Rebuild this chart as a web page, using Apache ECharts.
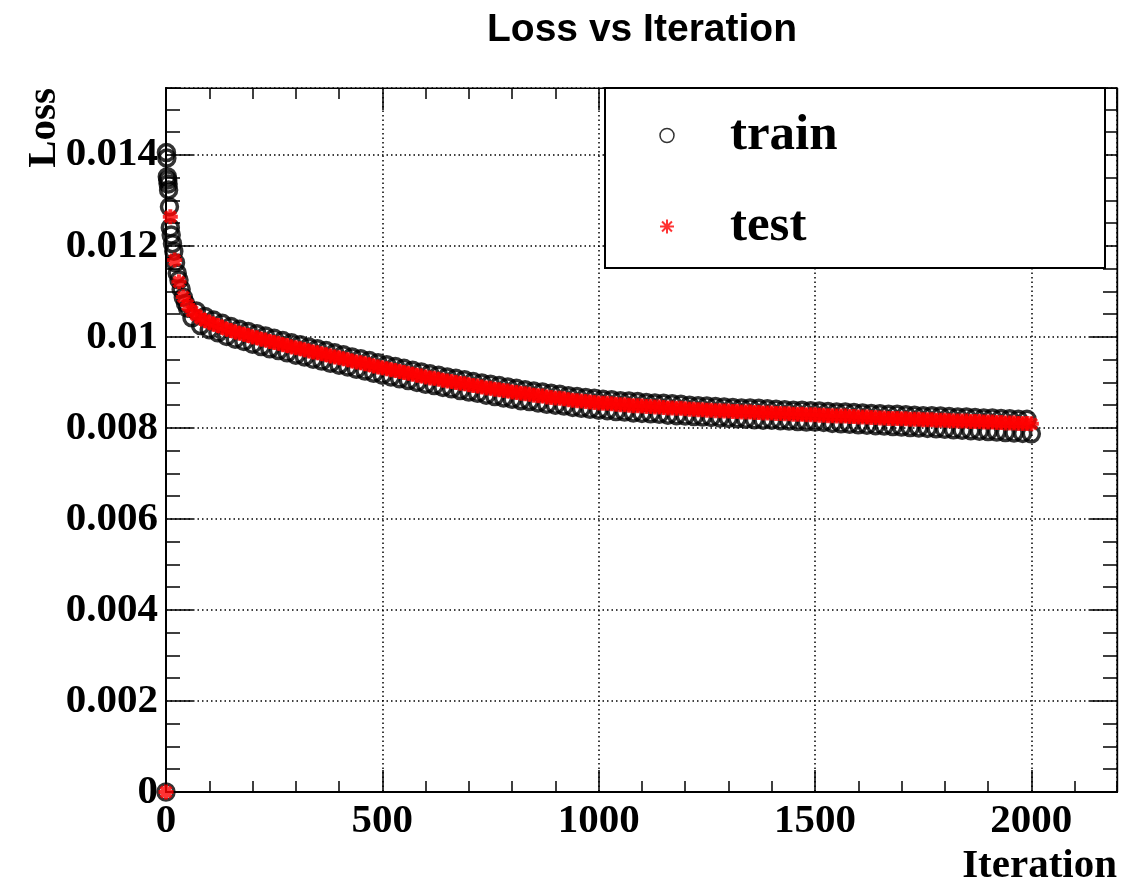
<!DOCTYPE html>
<html>
<head>
<meta charset="utf-8">
<script src="https://cdn.jsdelivr.net/npm/echarts@6/dist/echarts.min.js"></script>
<style>
  html, body { margin: 0; padding: 0; background: #ffffff; }
  #chart { width: 1129px; height: 880px; }
</style>
</head>
<body>
<div id="chart"></div>
<script>
// Test loss is logged every 10 iterations, from iteration 0 to 2000.
const testLogEvery = 10;
const testLoss = [
  0,
  0.01264, 0.01169, 0.01121, 0.01088, 0.01070, 0.01057, 0.01048, 0.01041, 0.01036, 0.01032,
  0.01028, 0.01025, 0.01021, 0.01017, 0.01014, 0.01011, 0.01008, 0.01006, 0.01003, 0.01000,
  0.00998, 0.00995, 0.00993, 0.00990, 0.00988, 0.00986, 0.00983, 0.00981, 0.00978, 0.00976,
  0.00974, 0.00972, 0.00969, 0.00967, 0.00965, 0.00963, 0.00961, 0.00958, 0.00956, 0.00954,
  0.00952, 0.00950, 0.00947, 0.00945, 0.00943, 0.00941, 0.00939, 0.00936, 0.00934, 0.00932,
  0.00930, 0.00928, 0.00926, 0.00924, 0.00922, 0.00920, 0.00918, 0.00916, 0.00914, 0.00912,
  0.00910, 0.00909, 0.00907, 0.00905, 0.00903, 0.00902, 0.00900, 0.00898, 0.00897, 0.00895,
  0.00893, 0.00892, 0.00890, 0.00888, 0.00887, 0.00885, 0.00884, 0.00882, 0.00881, 0.00879,
  0.00878, 0.00876, 0.00875, 0.00874, 0.00872, 0.00871, 0.00870, 0.00868, 0.00867, 0.00866,
  0.00865, 0.00864, 0.00862, 0.00861, 0.00860, 0.00859, 0.00858, 0.00857, 0.00856, 0.00855,
  0.00854, 0.00854, 0.00853, 0.00852, 0.00851, 0.00851, 0.00850, 0.00849, 0.00849, 0.00848,
  0.00847, 0.00847, 0.00846, 0.00846, 0.00845, 0.00844, 0.00844, 0.00843, 0.00843, 0.00842,
  0.00841, 0.00841, 0.00840, 0.00840, 0.00839, 0.00839, 0.00838, 0.00838, 0.00837, 0.00837,
  0.00836, 0.00836, 0.00835, 0.00835, 0.00835, 0.00834, 0.00834, 0.00833, 0.00833, 0.00833,
  0.00832, 0.00832, 0.00831, 0.00831, 0.00830, 0.00830, 0.00830, 0.00829, 0.00829, 0.00829,
  0.00828, 0.00828, 0.00827, 0.00827, 0.00826, 0.00826, 0.00826, 0.00825, 0.00825, 0.00824,
  0.00824, 0.00824, 0.00823, 0.00823, 0.00822, 0.00822, 0.00821, 0.00821, 0.00821, 0.00820,
  0.00820, 0.00819, 0.00819, 0.00819, 0.00818, 0.00818, 0.00818, 0.00817, 0.00817, 0.00817,
  0.00816, 0.00816, 0.00815, 0.00815, 0.00815, 0.00814, 0.00814, 0.00814, 0.00813, 0.00813,
  0.00813, 0.00812, 0.00812, 0.00811, 0.00811, 0.00811, 0.00810, 0.00810, 0.00810, 0.00809
];

// Train loss: finer logging during the first 50 iterations ...
const trainEarlyIter = [0, 1, 2, 3, 4, 5, 6, 8, 10, 12, 15, 18, 22, 26, 30, 35, 40, 45, 50];
const trainEarlyLoss = [
  0, 0.01405, 0.01393, 0.01352, 0.01345, 0.01336, 0.01323, 0.01286, 0.01240, 0.01224,
  0.01205, 0.01188, 0.01163, 0.01140, 0.01125, 0.01105, 0.01087, 0.01074, 0.01063
];
// ... then every 10 iterations from iteration 60 to 2000.
const trainLateStart = 60;
const trainLogEvery = 10;
const trainLateLoss = [
  0.01042, 0.01057, 0.01025, 0.01045, 0.01016, 0.01037, 0.01009, 0.01030, 0.01001, 0.01023,
  0.00995, 0.01017, 0.00990, 0.01012, 0.00984, 0.01007, 0.00979, 0.01002, 0.00974, 0.00997,
  0.00970, 0.00992, 0.00965, 0.00987, 0.00960, 0.00983, 0.00956, 0.00978, 0.00951, 0.00974,
  0.00947, 0.00970, 0.00942, 0.00965, 0.00938, 0.00961, 0.00934, 0.00956, 0.00929, 0.00952,
  0.00925, 0.00948, 0.00920, 0.00943, 0.00916, 0.00939, 0.00912, 0.00935, 0.00908, 0.00931,
  0.00904, 0.00927, 0.00900, 0.00923, 0.00896, 0.00919, 0.00893, 0.00916, 0.00889, 0.00912,
  0.00886, 0.00909, 0.00882, 0.00906, 0.00879, 0.00902, 0.00876, 0.00899, 0.00872, 0.00896,
  0.00869, 0.00893, 0.00866, 0.00890, 0.00863, 0.00887, 0.00860, 0.00884, 0.00858, 0.00881,
  0.00855, 0.00879, 0.00852, 0.00876, 0.00850, 0.00874, 0.00848, 0.00871, 0.00845, 0.00869,
  0.00843, 0.00867, 0.00841, 0.00865, 0.00839, 0.00863, 0.00838, 0.00862, 0.00836, 0.00860,
  0.00835, 0.00859, 0.00833, 0.00858, 0.00832, 0.00856, 0.00831, 0.00855, 0.00830, 0.00854,
  0.00828, 0.00853, 0.00827, 0.00852, 0.00826, 0.00850, 0.00825, 0.00849, 0.00824, 0.00848,
  0.00823, 0.00847, 0.00822, 0.00846, 0.00821, 0.00845, 0.00820, 0.00844, 0.00819, 0.00844,
  0.00818, 0.00843, 0.00817, 0.00842, 0.00817, 0.00841, 0.00816, 0.00840, 0.00815, 0.00839,
  0.00814, 0.00839, 0.00813, 0.00838, 0.00813, 0.00837, 0.00812, 0.00836, 0.00810, 0.00835,
  0.00809, 0.00835, 0.00808, 0.00834, 0.00807, 0.00833, 0.00806, 0.00832, 0.00805, 0.00831,
  0.00804, 0.00830, 0.00803, 0.00830, 0.00802, 0.00829, 0.00801, 0.00828, 0.00800, 0.00827,
  0.00799, 0.00827, 0.00798, 0.00826, 0.00797, 0.00825, 0.00796, 0.00824, 0.00795, 0.00824,
  0.00794, 0.00823, 0.00793, 0.00822, 0.00792, 0.00822, 0.00791, 0.00821, 0.00790, 0.00820,
  0.00789, 0.00819, 0.00788, 0.00819, 0.00787
];

// Axis ranges and tick spacing
const xRange = [0, 2198];
const yRange = [0, 0.01547];
const xMajor = 500, xMinor = 100;
const yMajor = 0.002, yMinor = 0.0005;

const testPoints = testLoss.map((v, i) => [i * testLogEvery, v]);
const trainPoints = trainEarlyIter.map((it, i) => [it, trainEarlyLoss[i]])
  .concat(trainLateLoss.map((v, i) => [trainLateStart + i * trainLogEvery, v]));

const serif = 'Liberation Serif';
const black = '#000000';
const red = '#ff0000';
const gridDots = { color: black, width: 1.5, type: [1.5, 3] };

function xAxisDef(position, interval, tickLen, withLabels) {
  return {
    type: 'value', position, min: xRange[0], max: xRange[1], interval,
    axisLine: { show: true, onZero: false, lineStyle: { color: black, width: position === 'bottom' ? 2 : 1.2 } },
    axisTick: { show: true, inside: true, length: tickLen, lineStyle: { color: black, width: 1.5 } },
    axisLabel: withLabels
      ? { show: true, fontFamily: serif, fontWeight: 'bold', fontSize: 41, color: black, margin: 9,
          showMaxLabel: false, formatter: (v) => String(v) }
      : { show: false },
    splitLine: withLabels ? { show: true, lineStyle: gridDots } : { show: false }
  };
}
function yAxisDef(position, interval, tickLen, withLabels) {
  return {
    type: 'value', position, min: yRange[0], max: yRange[1], interval,
    axisLine: { show: true, onZero: false, lineStyle: { color: black, width: position === 'left' ? 2 : 1.2 } },
    axisTick: { show: true, inside: true, length: tickLen, lineStyle: { color: black, width: 1.5 } },
    axisLabel: withLabels
      ? { show: true, fontFamily: serif, fontWeight: 'bold', fontSize: 41, color: black, margin: 8, showMaxLabel: false }
      : { show: false },
    splitLine: withLabels ? { show: true, lineStyle: gridDots } : { show: false }
  };
}

const xBottom = xAxisDef('bottom', xMajor, 22, true);
xBottom.name = 'Iteration';
xBottom.nameLocation = 'end';
xBottom.nameGap = 0;
xBottom.nameMoveOverlap = false;
xBottom.nameTextStyle = { fontFamily: serif, fontWeight: 'bold', fontSize: 41, color: black,
  align: 'right', verticalAlign: 'top', padding: [54, 0, 0, 0] };

const yLeft = yAxisDef('left', yMajor, 27, true);
yLeft.name = 'Loss';
yLeft.nameLocation = 'end';
yLeft.nameGap = 0;
yLeft.nameRotate = 90;
yLeft.nameMoveOverlap = false;
yLeft.nameTextStyle = { fontFamily: serif, fontWeight: 'bold', fontSize: 41, color: black,
  align: 'right', verticalAlign: 'bottom', padding: [0, 0, 101, 0] };

const starPath = 'path://M0,-10L0,10M-10,0L10,0M-7.07,-7.07L7.07,7.07M-7.07,7.07L7.07,-7.07';

const chart = echarts.init(document.getElementById('chart'), null, { renderer: 'canvas' });
chart.setOption({
  animation: false,
  backgroundColor: '#ffffff',
  title: {
    text: 'Loss vs Iteration',
    left: 637, top: 6, textAlign: 'center',
    textStyle: { fontFamily: 'Liberation Sans', fontWeight: 'bold', fontSize: 39, color: black }
  },
  grid: {
    left: 166, right: 12, top: 88, bottom: 88,
    show: true, borderColor: black, borderWidth: 1,
    outerBoundsMode: 'none'
  },
  legend: {
    orient: 'vertical', left: 654, top: 105,
    itemWidth: 116, itemHeight: 14, itemGap: 40,
    selectedMode: false,
    textStyle: { fontFamily: serif, fontWeight: 'bold', fontSize: 51, color: black },
    data: [
      { name: 'train', itemStyle: { color: 'transparent', borderColor: black, borderWidth: 1.5 } },
      { name: 'test', itemStyle: { color: red, borderColor: red, borderWidth: 2 } }
    ],
    z: 5
  },
  graphic: [{
    type: 'rect', z: 3, silent: true,
    shape: { x: 605, y: 88, width: 500, height: 180 },
    style: { fill: '#ffffff', stroke: black, lineWidth: 2 }
  }],
  xAxis: [
    xBottom,
    xAxisDef('bottom', xMinor, 11, false),
    xAxisDef('top', xMajor, 22, false),
    xAxisDef('top', xMinor, 11, false)
  ],
  yAxis: [
    yLeft,
    yAxisDef('left', yMinor, 14, false),
    yAxisDef('right', yMajor, 27, false),
    yAxisDef('right', yMinor, 14, false)
  ],
  series: [
    {
      name: 'train', type: 'scatter', xAxisIndex: 0, yAxisIndex: 0,
      data: trainPoints, symbol: 'circle', symbolSize: 16, clip: false, silent: true,
      itemStyle: { color: 'transparent', borderColor: black, borderWidth: 3.5 }
    },
    {
      name: 'test', type: 'scatter', xAxisIndex: 0, yAxisIndex: 0,
      data: testPoints, symbol: starPath, symbolSize: 15, clip: false, silent: true,
      itemStyle: { color: red, borderColor: red, borderWidth: 4 }
    }
  ]
});
</script>
</body>
</html>
